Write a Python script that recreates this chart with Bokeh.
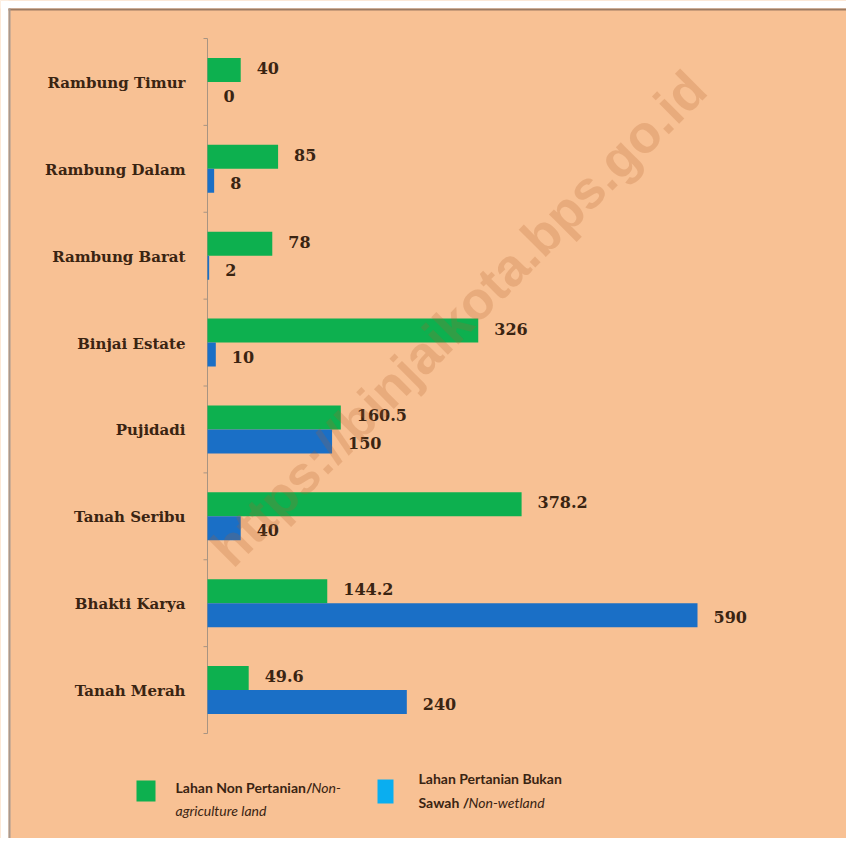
from bokeh.plotting import figure
from bokeh.models import Range1d, ColumnDataSource
from bokeh.embed import file_html
from bokeh.resources import INLINE
from bokeh.core.properties import value

categories = ["Rambung Timur", "Rambung Dalam", "Rambung Barat", "Binjai Estate",
              "Pujidadi", "Tanah Seribu", "Bhakti Karya", "Tanah Merah"]
non_agri = [40, 85, 78, 326, 160.5, 378.2, 144.2, 49.6]
non_wet = [0, 8, 2, 10, 150, 40, 590, 240]
non_agri_labels = ["40", "85", "78", "326", "160.5", "378.2", "144.2", "49.6"]
non_wet_labels = ["0", "8", "2", "10", "150", "40", "590", "240"]

BG = "#F8C194"
GREEN = "#0DB04F"
BLUE = "#1A6FC6"
LEG_BLUE = "#0AAEF0"
TXT = "#3A2412"
AXC = "#A89482"

W, H = 846, 838
AX_X = 207          # pixel position of the value axis
TOP = 38            # pixel top of the category area
PX = 490 / 590      # pixels per unit
BAND = 86.875       # pixels per category

n = len(categories)
centers = [n - i - 0.5 for i in range(n)]
off = 0.138
hgt = 0.276

def dx(px):
    return (px - AX_X) / PX

def dy(py):
    return n - (py - TOP) / BAND

src = ColumnDataSource(dict(
    cat=categories, yc=centers,
    yg=[c + off for c in centers],
    yb=[c - off for c in centers],
    g=non_agri, b=non_wet,
    gl=non_agri_labels, bl=non_wet_labels,
))

p = figure(width=W, height=H, output_backend="svg", toolbar_location=None,
           x_range=Range1d(dx(0), dx(W)), y_range=Range1d(dy(H), dy(0)),
           min_border=0, min_border_left=0, min_border_right=0,
           min_border_top=0, min_border_bottom=0)
p.background_fill_color = BG
p.border_fill_color = BG
p.outline_line_color = None
p.grid.visible = False
p.axis.visible = False

# picture frame: white margin with a thin dark edge on top and left
p.quad(left=[dx(0)], right=[dx(W)], top=[dy(0)], bottom=[dy(8)], color="white", line_color=None)
p.quad(left=[dx(0)], right=[dx(8)], top=[dy(0)], bottom=[dy(H)], color="white", line_color=None)
p.quad(left=[dx(8)], right=[dx(W)], top=[dy(8)], bottom=[dy(10)], color="#9C7B62", line_color=None)
p.quad(left=[dx(8)], right=[dx(10)], top=[dy(8)], bottom=[dy(H)], color="#A8998F", line_color=None)

# value axis line and category separator ticks
p.segment(x0=[0], x1=[0], y0=[0], y1=[n], line_color=AXC, line_width=1)
p.segment(x0=[dx(AX_X - 4)] * (n + 1), x1=[0] * (n + 1),
          y0=list(range(n + 1)), y1=list(range(n + 1)), line_color=AXC, line_width=1)

# bars
p.hbar(y="yg", right="g", left=0, height=hgt, source=src, fill_color=GREEN, line_color=None)
p.hbar(y="yb", right="b", left=0, height=hgt, source=src, fill_color=BLUE, line_color=None)

# category labels
p.text(x=0, y="yc", text="cat", source=src, x_offset=-22, y_offset=1,
       text_align="right", text_baseline="middle", text_font=value("DejaVu Serif"),
       text_font_style="bold", text_font_size="15px", text_color=TXT)

# value labels
p.text(x="g", y="yg", text="gl", source=src, x_offset=16, y_offset=-2,
       text_align="left", text_baseline="middle", text_font=value("DejaVu Serif"),
       text_font_style="bold", text_font_size="16px", text_color=TXT)
p.text(x="b", y="yb", text="bl", source=src, x_offset=16, y_offset=2,
       text_align="left", text_baseline="middle", text_font=value("DejaVu Serif"),
       text_font_style="bold", text_font_size="16px", text_color=TXT)

# watermark
p.text(x=[302], y=[4.78], text=["https://binjaikota.bps.go.id"], angle=0.785,
       text_align="center", text_baseline="middle", text_font=value("Liberation Sans"),
       text_font_style="bold", text_font_size="53px", text_color="#B0602A", text_alpha=0.22)

# legend
p.quad(left=[dx(136)], right=[dx(155)], top=[dy(780)], bottom=[dy(801)],
       fill_color=GREEN, line_color=None)
p.quad(left=[dx(377)], right=[dx(393)], top=[dy(779)], bottom=[dy(803)],
       fill_color=LEG_BLUE, line_color=None)

def t(px, py, s, style):
    p.text(x=[dx(px)], y=[dy(py)], text=[s], text_align="left", text_baseline="middle",
           text_font=value("Lato"), text_font_style=style, text_font_size="14px",
           text_color=TXT)

t(175, 787, "Lahan Non Pertanian/", "bold")
t(311, 787, "Non-", "italic")
t(175, 810, "agriculture land", "italic")
t(418, 778, "Lahan Pertanian Bukan", "bold")
t(418, 802, "Sawah /", "bold")
t(468, 802, "Non-wetland", "italic")

open("out.html", "w").write(file_html(p, INLINE))
